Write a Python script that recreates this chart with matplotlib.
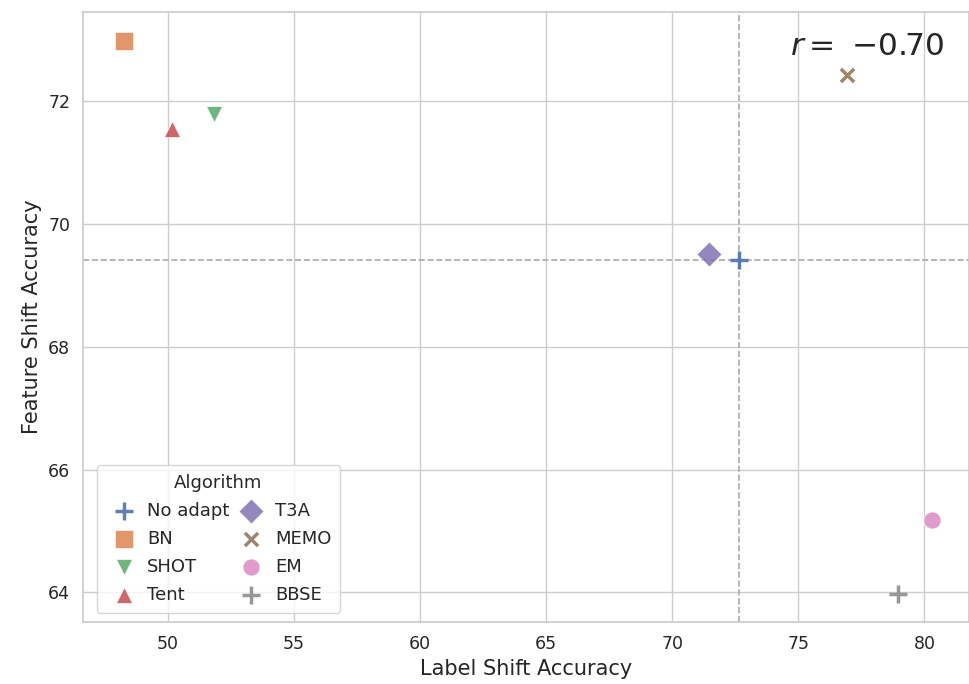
import matplotlib
matplotlib.use("Agg")
import matplotlib.pyplot as plt
import seaborn as sns

# Accuracy per algorithm
algorithms = ["No adapt", "BN", "SHOT", "Tent", "T3A", "MEMO", "EM", "BBSE"]
label_shift_acc = [72.65, 48.25, 51.85, 50.15, 71.45, 76.95, 80.3, 78.95]
feature_shift_acc = [69.42, 72.98, 71.8, 71.55, 69.52, 72.43, 65.17, 63.98]
markers = ["+", "s", "v", "^", "D", "x", "o", "+"]
sizes = [170, 170, 130, 130, 160, 90, 150, 170]
r_value = -0.70

sns.set_theme(style="whitegrid")
plt.rcParams['font.family'] = ['DejaVu Sans']
palette = sns.color_palette("deep", len(algorithms))
palette[-1] = (0.55, 0.55, 0.55)

fig, ax = plt.subplots(figsize=(9.69, 6.84), dpi=100)
fig.subplots_adjust(left=0.086, right=0.9995, bottom=0.091, top=0.982)

for i, name in enumerate(algorithms):
    m = markers[i]
    if m in ("+", "x"):
        ax.scatter(label_shift_acc[i], feature_shift_acc[i], marker=m,
                   s=sizes[i], color=palette[i], label=name, zorder=3,
                   alpha=0.9, linewidths=2.5)
    else:
        ax.scatter(label_shift_acc[i], feature_shift_acc[i], marker=m,
                   s=sizes[i], color=palette[i], label=name, zorder=3,
                   alpha=0.85, edgecolor="white", linewidth=0.5)

# reference lines through "No adapt"
ax.axvline(label_shift_acc[0], color="#aaaaaa", linestyle="--", linewidth=1.2, zorder=2)
ax.axhline(feature_shift_acc[0], color="#aaaaaa", linestyle="--", linewidth=1.2, zorder=2)

ax.set_xlim(46.65, 81.75)
ax.set_ylim(63.52, 73.45)
ax.set_xticks([50, 55, 60, 65, 70, 75, 80])
ax.set_yticks([64, 66, 68, 70, 72])
ax.tick_params(labelsize=12.5)

ax.set_xlabel("Label Shift Accuracy", fontsize=15)
ax.set_ylabel("Feature Shift Accuracy", fontsize=15)

r_text = "$r = $ " + f"{r_value:.2f}".replace("-", "\u2212")
ax.text(0.973, 0.968, r_text,
        transform=ax.transAxes, ha="right", va="top", fontsize=22.5)

ax.legend(title="Algorithm", ncol=2, loc="lower left", fontsize=13,
          title_fontsize=13, handletextpad=0.3, columnspacing=0.2,
          borderpad=0.5, labelspacing=0.55, frameon=True,
          bbox_to_anchor=(0.005, 0.0))

plt.savefig("out.png", dpi=100)
plt.close()
